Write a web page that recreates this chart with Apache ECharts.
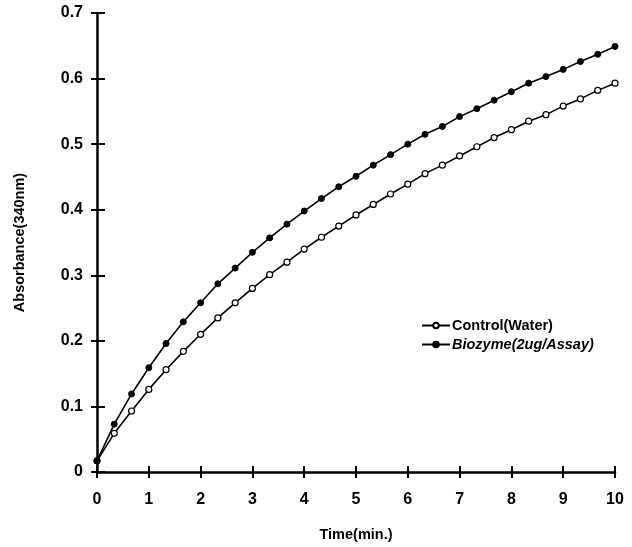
<!DOCTYPE html>
<html>
<head>
<meta charset="utf-8">
<script src="https://cdn.jsdelivr.net/npm/echarts@6/dist/echarts.min.js"></script>
<style>
  html, body { margin: 0; padding: 0; background: #fff; }
  #main { width: 632px; height: 547px; }
</style>
</head>
<body>
<div id="main"></div>
<script>
// time points (min), one every 1/3 minute
const times = [
  0, 0.333, 0.667, 1, 1.333, 1.667, 2, 2.333, 2.667, 3,
  3.333, 3.667, 4, 4.333, 4.667, 5, 5.333, 5.667, 6, 6.333,
  6.667, 7, 7.333, 7.667, 8, 8.333, 8.667, 9, 9.333, 9.667, 10
];
const controlWater = [
  0.017, 0.059, 0.093, 0.126, 0.156, 0.184, 0.210, 0.235, 0.258, 0.280,
  0.301, 0.320, 0.340, 0.358, 0.375, 0.392, 0.408, 0.424, 0.439, 0.455,
  0.468, 0.482, 0.496, 0.510, 0.522, 0.535, 0.545, 0.558, 0.569, 0.582, 0.593
];
const biozyme = [
  0.017, 0.073, 0.119, 0.159, 0.196, 0.229, 0.258, 0.287, 0.311, 0.335,
  0.357, 0.378, 0.398, 0.417, 0.435, 0.451, 0.468, 0.484, 0.500, 0.515,
  0.527, 0.542, 0.554, 0.567, 0.580, 0.593, 0.603, 0.614, 0.626, 0.637, 0.649
];
const seriesNames = ['Control(Water)', 'Biozyme(2ug/Assay)'];

const font = 'Liberation Sans, Arial, sans-serif';

function pairs(vals) {
  return vals.map((v, i) => [times[i], v]);
}

const chart = echarts.init(document.getElementById('main'), null, { renderer: 'canvas' });

const axisLineStyle = { color: '#000', width: 2.5 };

const option = {
  animation: false,
  backgroundColor: '#fff',
  grid: { left: 97, right: 17, top: 13, bottom: 73 },
  legend: {
    orient: 'vertical',
    left: 416,
    top: 313,
    itemWidth: 28,
    itemHeight: 7,
    itemGap: 4,
    textStyle: { fontFamily: font, fontWeight: 'bold', fontSize: 14.5, color: '#000', padding: [0, 0, 0, -3] },
    data: [
      { name: seriesNames[0] },
      { name: seriesNames[1], textStyle: { fontStyle: 'italic' } }
    ]
  },
  xAxis: [
    {
      type: 'value', min: 0, max: 10, interval: 1,
      name: 'Time(min.)', nameLocation: 'middle', nameGap: 55,
      nameTextStyle: { fontFamily: font, fontWeight: 'bold', fontSize: 14.5, color: '#000' },
      axisLine: { lineStyle: axisLineStyle },
      axisTick: { length: 6, lineStyle: { color: '#000', width: 2 } },
      axisLabel: { margin: 20, fontFamily: font, fontWeight: 'bold', fontSize: 16, color: '#000' },
      splitLine: { show: false }
    },
    {
      type: 'value', min: 0, max: 10, interval: 1, position: 'bottom',
      axisLine: { show: false },
      axisTick: { inside: true, length: 6, lineStyle: { color: '#000', width: 2 } },
      axisLabel: { show: false },
      splitLine: { show: false }
    }
  ],
  yAxis: [
    {
      type: 'value', min: 0, max: 0.7, interval: 0.1,
      name: 'Absorbance(340nm)', nameLocation: 'middle', nameGap: 70, nameRotate: 90,
      nameTextStyle: { fontFamily: font, fontWeight: 'bold', fontSize: 14.5, color: '#000' },
      axisLine: { lineStyle: axisLineStyle },
      axisTick: { length: 6, lineStyle: { color: '#000', width: 2 } },
      axisLabel: {
        margin: 14, fontFamily: font, fontWeight: 'bold', fontSize: 16, color: '#000',
        formatter: (v) => (v === 0 ? '0' : v.toFixed(1))
      },
      splitLine: { show: false }
    },
    {
      type: 'value', min: 0, max: 0.7, interval: 0.1, position: 'left',
      axisLine: { show: false },
      axisTick: { inside: true, length: 8, lineStyle: { color: '#000', width: 2 } },
      axisLabel: { show: false },
      splitLine: { show: false }
    }
  ],
  series: [
    {
      name: seriesNames[0],
      type: 'line',
      data: pairs(controlWater),
      symbol: 'circle',
      symbolSize: 6,
      lineStyle: { color: '#000', width: 1.6 },
      itemStyle: { color: '#fff', borderColor: '#000', borderWidth: 1.2 }
    },
    {
      name: seriesNames[1],
      type: 'line',
      data: pairs(biozyme),
      symbol: 'circle',
      symbolSize: 6,
      lineStyle: { color: '#000', width: 1.6 },
      itemStyle: { color: '#000', borderColor: '#000', borderWidth: 1 }
    }
  ]
};

chart.setOption(option);
</script>
</body>
</html>
